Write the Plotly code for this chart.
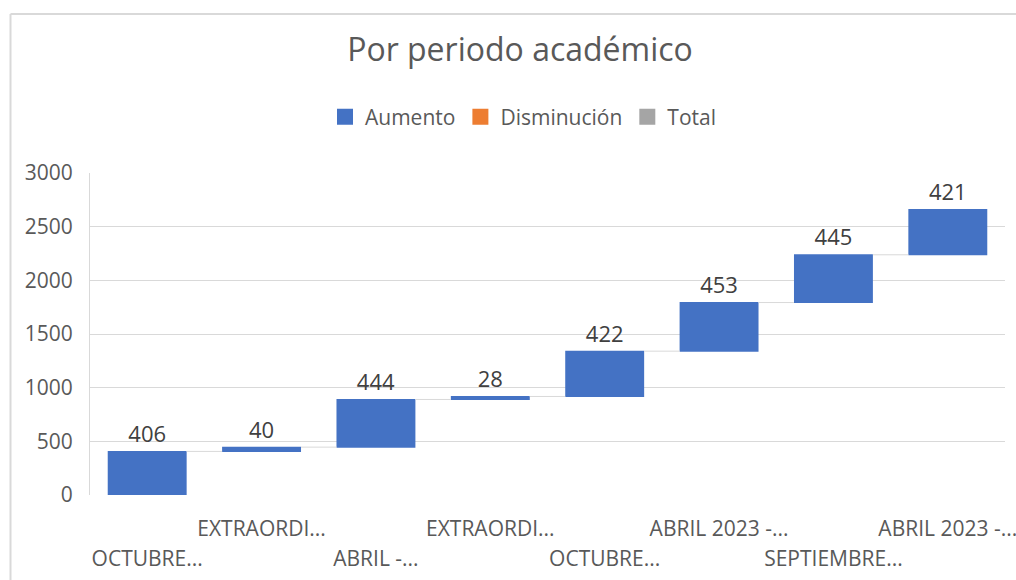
import plotly.graph_objects as go

categories = ["OCTUBRE...", "EXTRAORDI...", "ABRIL -...", "EXTRAORDI...",
              "OCTUBRE...", "ABRIL 2023 -...", "SEPTIEMBRE...", "ABRIL 2023 -..."]
values = [406, 40, 444, 28, 422, 453, 445, 421]
legend_names = ["Aumento", "Disminución", "Total"]
legend_colors = ["#4472C4", "#ED7D31", "#A5A5A5"]
y_ticks = [0, 500, 1000, 1500, 2000, 2500, 3000]
title_text = "Por periodo académico"

FONT = "Open Sans"
GREY = "#595959"

W, H = 1016, 580
L, R, T, B = 90, 11, 173, 85

positions = list(range(len(categories)))
upper_idx = [i for i in positions if i % 2 == 1]
lower_idx = [i for i in positions if i % 2 == 0]

fig = go.Figure()
fig.add_trace(go.Waterfall(
    x=positions, y=values, measure=["relative"] * len(values),
    text=[str(v) for v in values], textposition="outside",
    textfont=dict(family=FONT, size=22, color="#404040"),
    increasing=dict(marker=dict(color=legend_colors[0])),
    decreasing=dict(marker=dict(color=legend_colors[1])),
    totals=dict(marker=dict(color=legend_colors[2])),
    connector=dict(mode="between", line=dict(color="#D9D9D9", width=1)),
    width=[0.69] * len(values), showlegend=False, hoverinfo="skip",
    cliponaxis=False,
))
for name, col in zip(legend_names, legend_colors):
    fig.add_trace(go.Scatter(x=[None], y=[None], name=name, mode="markers",
                             marker=dict(symbol="square", size=20, color=col),
                             xaxis="x2", hoverinfo="skip"))

xr = [-0.5, len(categories) - 0.5]
fig.update_layout(
    width=W, height=H, autosize=False,
    margin=dict(l=L, r=R, t=T, b=B, autoexpand=False),
    paper_bgcolor="white", plot_bgcolor="white",
    font=dict(family=FONT, color=GREY),
    title=dict(text=title_text, x=520 / W, xanchor="center",
               y=1 - 50 / H, yanchor="middle",
               font=dict(family=FONT, size=32, color=GREY)),
    legend=dict(orientation="h", xref="container", yref="container",
                x=523 / W, xanchor="center", y=1 - 117 / H,
                yanchor="middle", itemsizing="trace",
                font=dict(family=FONT, size=21, color=GREY), traceorder="normal"),
    xaxis=dict(range=xr, tickmode="array", tickvals=upper_idx,
               ticktext=[categories[i] for i in upper_idx],
               tickfont=dict(family=FONT, size=21, color=GREY),
               ticklabelstandoff=19, ticklabeloverflow="allow", automargin=False,
               showgrid=False, zeroline=False, showline=False, ticks=""),
    xaxis2=dict(range=xr, overlaying="x", anchor="y", side="bottom",
                tickmode="array", tickvals=lower_idx,
                ticktext=[categories[i] for i in lower_idx],
                tickfont=dict(family=FONT, size=21, color=GREY),
                ticklabelstandoff=49, ticklabeloverflow="allow", automargin=False,
                showgrid=False, zeroline=False, showline=False, ticks=""),
    yaxis=dict(range=[0, 3000], tickmode="array", tickvals=y_ticks,
               tickfont=dict(family=FONT, size=21, color=GREY),
               gridcolor="#D9D9D9", gridwidth=1, zeroline=False,
               showline=True, linecolor="#D9D9D9", linewidth=1,
               ticklabelstandoff=12, automargin=False),
    showlegend=True,
)
# chart outer frame: left and top edges
pw, ph = W - L - R, H - T - B
bottom_px = H - B
fx = (10.5 - L) / pw
fy = (bottom_px - 14) / ph
fig.add_shape(type="line", xref="paper", yref="paper",
              x0=fx, x1=fx, y0=(bottom_px - 600) / ph, y1=fy,
              line=dict(color="#D9D9D9", width=2), layer="below")
fig.add_shape(type="line", xref="paper", yref="paper",
              x0=fx, x1=(1100 - L) / pw, y0=fy, y1=fy,
              line=dict(color="#D9D9D9", width=2), layer="below")
fig.write_html("out.html",
               config={"displayModeBar": False, "responsive": False},
               post_script="document.body.style.margin='0';"
                           "document.body.style.overflow='hidden';")
